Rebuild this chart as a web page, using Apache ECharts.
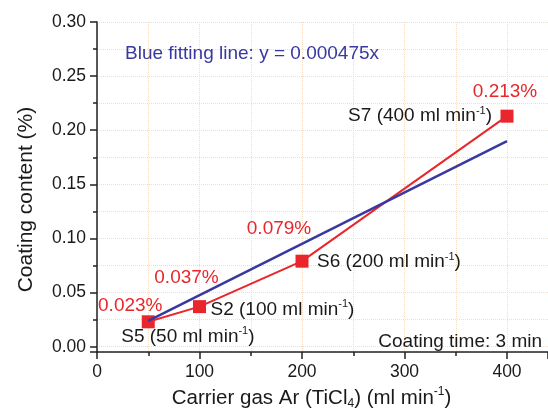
<!DOCTYPE html>
<html>
<head>
<meta charset="utf-8">
<script src="https://cdn.jsdelivr.net/npm/echarts@6/dist/echarts.min.js"></script>
<style>
  html, body { margin: 0; padding: 0; background: #fff; }
  #chart { width: 548px; height: 415px; }
</style>
</head>
<body>
<div id="chart"></div>
<script>
  // carrier gas flow (ml/min) and measured coating content (%)
  var flows = [50, 100, 200, 400];
  var coating = [0.023, 0.037, 0.079, 0.213];
  var sampleNames = ['S5', 'S2', 'S6', 'S7'];
  // blue fitting line end points (y = 0.000475x)
  var fitX = [50, 400];
  var fitY = [0.02375, 0.19];

  var font = 'Liberation Sans, Arial, sans-serif';
  var red = '#e8262b';
  var blue = '#3838a0';
  var ink = '#1a1a1a';
  var gridColor = '#f3dcc4';

  // where each text sits next to its point
  var valueOffsets = [[-18, -16], [-13, -29], [-23, -32], [-2, -24]];
  var nameOffsets = [[-27, 15], [11, 3], [15, 1], [-15, 0]];
  var nameAligns = ['left', 'left', 'left', 'right'];

  var richSup = {
    t: { fontSize: 19, color: ink, fontFamily: font, lineHeight: 22 },
    sup: { fontSize: 11, color: ink, fontFamily: font, verticalAlign: 'top', lineHeight: 22, padding: [0, 0, 7, 0] }
  };

  var chart = echarts.init(document.getElementById('chart'));

  var redData = flows.map(function (f, i) {
    return {
      value: [f, coating[i]],
      label: { offset: valueOffsets[i] }
    };
  });

  var nameData = flows.map(function (f, i) {
    return {
      value: [f, coating[i]],
      label: {
        align: nameAligns[i],
        offset: nameOffsets[i],
        formatter: '{t|' + sampleNames[i] + ' (' + f + ' ml min}{sup|-1}{t|)}'
      }
    };
  });

  var option = {
    animation: false,
    backgroundColor: '#fff',
    grid: { left: 97, right: 0, top: 22, bottom: 52 },
    xAxis: {
      type: 'value',
      min: 0,
      max: 440,
      interval: 100,
      name: '{t|Carrier gas Ar (TiCl}{sub|4}{t|) (ml min}{sup|-1}{t|)}',
      nameLocation: 'middle',
      nameGap: 25,
      nameTextStyle: {
        padding: [0, 22, 0, 0],
        rich: {
          t: { fontSize: 20.5, color: ink, fontFamily: font, lineHeight: 24 },
          sub: { fontSize: 12, color: ink, fontFamily: font, verticalAlign: 'bottom', lineHeight: 24 },
          sup: { fontSize: 12, color: ink, fontFamily: font, verticalAlign: 'top', lineHeight: 24 }
        }
      },
      axisLine: { onZero: false, lineStyle: { color: '#222', width: 1.5 } },
      axisTick: { inside: false, length: 7, lineStyle: { color: '#222', width: 1.5 } },
      minorTick: { show: true, splitNumber: 2, length: 4, lineStyle: { color: '#222', width: 1.5 } },
      axisLabel: { fontSize: 17.5, color: ink, fontFamily: font, margin: 11, showMaxLabel: false },
      splitLine: { show: true, lineStyle: { color: gridColor, type: 'dotted', width: 1 } },
      minorSplitLine: { show: true, lineStyle: { color: gridColor, type: 'dotted', width: 1 } }
    },
    yAxis: {
      type: 'value',
      min: -0.005,
      max: 0.30,
      splitNumber: 6,
      name: 'Coating content (%)',
      nameLocation: 'middle',
      nameGap: 60,
      nameTextStyle: { fontSize: 21, color: ink, fontFamily: font, padding: [0, 25, 0, 0] },
      axisLine: { onZero: false, lineStyle: { color: '#222', width: 1.5 } },
      axisTick: { inside: false, length: 7, lineStyle: { color: '#222', width: 1.5 } },
      minorTick: { show: true, splitNumber: 2, length: 4, lineStyle: { color: '#222', width: 1.5 } },
      axisLabel: {
        fontSize: 17.5, color: ink, fontFamily: font, margin: 11,
        showMinLabel: false,
        formatter: function (v) { return v.toFixed(2); }
      },
      splitLine: { show: true, lineStyle: { color: gridColor, type: 'dotted', width: 1 } },
      minorSplitLine: { show: true, lineStyle: { color: gridColor, type: 'dotted', width: 1 } }
    },
    graphic: [
      {
        type: 'text', left: 125, top: 44, z: 100,
        style: { text: 'Blue fitting line: y = 0.000475x', fontSize: 19, fill: blue, fontFamily: font }
      },
      {
        type: 'text', right: 6, top: 332, z: 100,
        style: { text: 'Coating time: 3 min', fontSize: 19, fill: ink, fontFamily: font }
      }
    ],
    series: [
      {
        name: 'measured',
        type: 'line',
        data: redData,
        symbol: 'rect',
        symbolSize: 13,
        lineStyle: { color: red, width: 2 },
        itemStyle: { color: red },
        z: 2,
        label: {
          show: true,
          position: 'inside',
          fontSize: 19,
          color: red,
          fontFamily: font,
          formatter: function (p) { return p.value[1].toFixed(3) + '%'; }
        }
      },
      {
        name: 'fit',
        type: 'line',
        data: fitX.map(function (x, i) { return [x, fitY[i]]; }),
        symbol: 'none',
        lineStyle: { color: blue, width: 2.5 },
        z: 3
      },
      {
        name: 'samples',
        type: 'scatter',
        data: nameData,
        symbolSize: 1,
        itemStyle: { color: 'transparent', opacity: 1 },
        z: 4,
        label: {
          show: true,
          position: 'inside',
          fontSize: 19,
          color: ink,
          fontFamily: font,
          rich: richSup
        }
      }
    ]
  };

  chart.setOption(option);
</script>
</body>
</html>
